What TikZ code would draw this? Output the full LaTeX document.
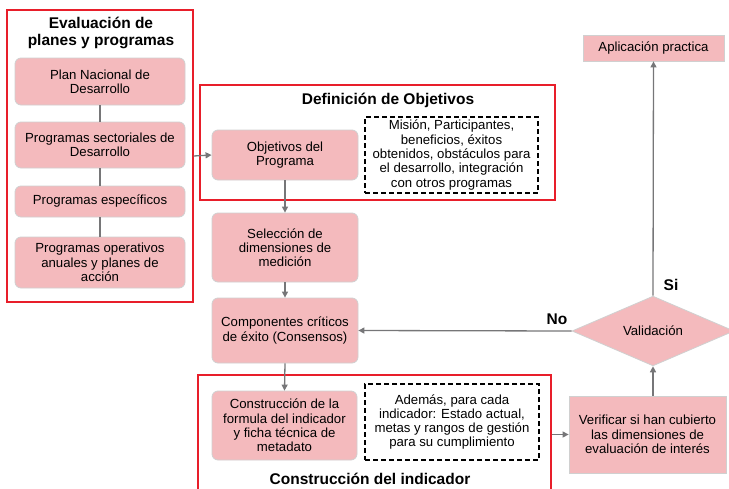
\documentclass[tikz,border=0pt]{standalone}
\usepackage{fontspec}
\setmainfont{Liberation Sans}
\usetikzlibrary{shapes.geometric,arrows.meta}
\definecolor{rosa}{RGB}{244,186,189}
\definecolor{borde}{RGB}{208,208,208}
\definecolor{rojo}{RGB}{232,30,42}
\definecolor{gris}{RGB}{118,118,120}

\begin{document}
\begin{tikzpicture}
  [x=1pt,y=-1pt,
   every node/.style={inner sep=0pt,align=center,font=\fontsize{13.2}{14.3}\selectfont},
   paso/.style={rectangle,rounded corners=6pt,fill=rosa,draw=borde,line width=0.8pt},
   cuadro/.style={rectangle,fill=rosa,draw=borde,line width=0.8pt},
   marco/.style={rectangle,draw=rojo,line width=1.1pt},
   nota/.style={rectangle,draw=black,line width=1.8pt,dash pattern=on 5pt off 3pt},
   titulo/.style={font=\fontsize{15.5}{17}\selectfont\bfseries},
   flecha/.style={draw=gris,line width=1.3pt,-{Triangle[length=6pt,width=6pt]}},
   liga/.style={draw=gris,line width=1.3pt}]
  \useasboundingbox (0,0) rectangle (729,488);
  \clip (0,0) rectangle (729,488);

  % marcos rojos
  \node[marco,minimum width=186pt,minimum height=292pt] (evalmarco) at (100,156) {};
  \node[marco,minimum width=355pt,minimum height=115pt] (defmarco) at (377.5,142.5) {};
  \node[marco,minimum width=353pt,minimum height=122pt] (consmarco) at (374.5,436) {};

  % evaluacion de planes y programas
  \node[titulo] (evaltit) at (101,33) {Evaluación de\\planes y programas};
  \node[paso,minimum width=170pt,minimum height=47pt] (plan) at (100,81.5) {Plan Nacional de\\Desarrollo};
  \node[paso,minimum width=170pt,minimum height=46pt] (sect) at (100,145) {Programas sectoriales de\\Desarrollo};
  \node[paso,minimum width=170pt,minimum height=31pt] (espec) at (100,201.5) {Programas específicos};
  \node[paso,minimum width=170pt,minimum height=51pt] (oper) at (100,262.5) {Programas operativos\\anuales y planes de\\acción};

  % definicion de objetivos
  \node[titulo] (deftit) at (388,100) {Definición de Objetivos};
  \node[paso,minimum width=146pt,minimum height=50pt] (objprog) at (285,155) {Objetivos del\\Programa};
  \node[nota,minimum width=173pt,minimum height=76pt] (mision) at (451.5,155)
    {Misión, Participantes,\\beneficios, éxitos\\obtenidos, obstáculos para\\el desarrollo, integración\\con otros programas};

  \node[paso,minimum width=146pt,minimum height=69pt] (selec) at (285,247.5) {Selección de\\dimensiones de\\medición};
  \node[paso,minimum width=146pt,minimum height=65pt] (compo) at (285,330.5) {Componentes críticos\\de éxito (Consensos)};

  % construccion del indicador
  \node[paso,minimum width=145pt,minimum height=69pt] (constr) at (284.5,425.5)
    {Construcción de la\\formula del indicador\\y ficha técnica de\\metadato};
  \node[nota,minimum width=174pt,minimum height=76pt] (ademas) at (452,422)
    {Además, para cada\\indicador: Estado actual,\\metas y rangos de gestión\\para su cumplimiento};
  \node[titulo] (constit) at (370,479) {Construcción del indicador};

  % validacion
  \node[cuadro,minimum width=157pt,minimum height=77pt] (verif) at (647.5,434.5)
    {Verificar si han cubierto\\las dimensiones de\\evaluación de interés};
  \node[diamond,fill=rosa,draw=borde,line width=0.8pt,minimum width=162pt,minimum height=67pt] (valid) at (653,331) {Validación};
  \node[cuadro,minimum width=141pt,minimum height=26pt] (aplic) at (653.5,48) {Aplicación practica};
  \node[titulo] (no) at (557,319) {No};
  \node[titulo] (si) at (671,285) {Si};

  \foreach \from/\to in {plan/sect,sect/espec,espec/oper}
    \draw[liga] (\from) -- (\to);

  \draw[flecha] (evalmarco.east) -- (objprog.west);
  \foreach \from/\to in {objprog/selec,selec/compo,compo/constr}
    \draw[flecha] (\from.south) -- (\to.north);
  \draw[flecha] (valid.west) -- (compo.east);
  \draw[flecha] (consmarco.east |- verif.west) -- (verif.west);
  \draw[flecha] (valid.south |- verif.north) -- (valid.south);
  \draw[flecha] (valid.north) -- (aplic.south);

\end{tikzpicture}
\end{document}
